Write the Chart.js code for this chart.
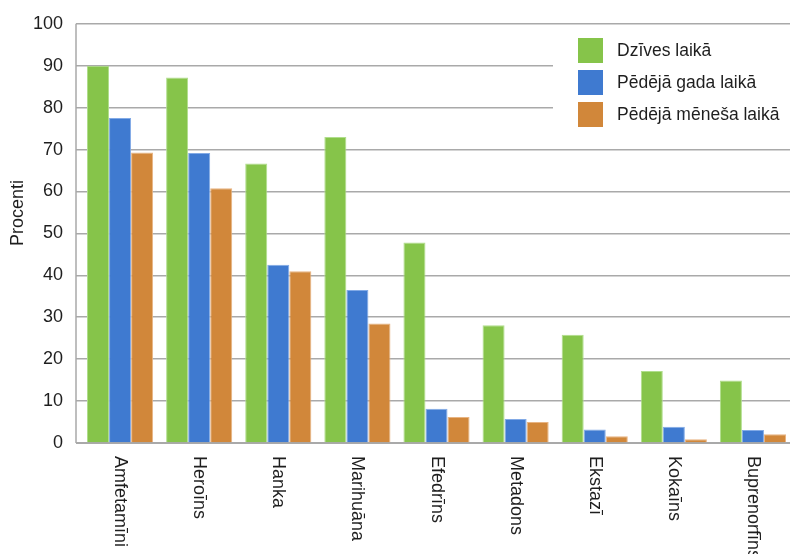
<!DOCTYPE html>
<html>
<head>
<meta charset="utf-8">
<script src="https://cdn.jsdelivr.net/npm/chart.js@4/dist/chart.umd.min.js"></script>
<style>
  html, body { margin: 0; padding: 0; background: #fff; }
  #wrap { width: 790px; height: 554px; overflow: hidden; }
</style>
</head>
<body>
<div id="wrap"><canvas id="myChart" width="796" height="554"></canvas></div>
<script>
let categories = ['Amfetamīni', 'Heroīns', 'Hanka', 'Marihuāna', 'Efedrīns', 'Metadons', 'Ekstazī', 'Kokaīns', 'Buprenorfīns']
let lifetime = [90.0, 87.2, 66.7, 73.0, 47.8, 28.1, 25.8, 17.2, 14.9]
let lastYear = [77.5, 69.2, 42.5, 36.5, 8.2, 5.7, 3.2, 3.9, 3.1]
let lastMonth = [69.3, 60.8, 41.0, 28.5, 6.2, 5.0, 1.6, 0.9, 2.1]
let seriesNames = ['Dzīves laikā', 'Pēdējā gada laikā', 'Pēdējā mēneša laikā']
let yTicks = [0, 10, 20, 30, 40, 50, 60, 70, 80, 90, 100]
let yTitle = 'Procenti'

const FONT = "'Liberation Sans', Arial, sans-serif"
const TEXT = '#1e1e1e'
const GRID = '#a9a9a9'
const AXIS_GAP = 4.5   // axis line sits a little left of the first category

// axis lines, y title and the downward category names
const frame = {
    id: 'frame',
    beforeDatasetsDraw(chart) {
        const ctx = chart.ctx
        const a = chart.chartArea
        const ax = a.left - AXIS_GAP
        ctx.save()
        ctx.strokeStyle = GRID
        ctx.lineWidth = 1.5
        ctx.beginPath()
        ctx.moveTo(ax, a.top)
        ctx.lineTo(ax, a.bottom)
        ctx.stroke()
        ctx.lineWidth = 2
        ctx.beginPath()
        ctx.moveTo(ax, a.bottom)
        ctx.lineTo(a.right, a.bottom)
        ctx.stroke()
        ctx.restore()
    },
    afterDraw(chart) {
        const ctx = chart.ctx
        const xs = chart.scales.x
        ctx.save()
        ctx.fillStyle = TEXT
        ctx.font = '18px ' + FONT
        ctx.textAlign = 'left'
        ctx.textBaseline = 'middle'
        chart.data.labels.forEach((lab, i) => {
            ctx.save()
            ctx.translate(xs.getPixelForTick(i), chart.chartArea.bottom + 13)
            ctx.rotate(Math.PI / 2)
            ctx.fillText(lab, 0, 0)
            ctx.restore()
        })
        ctx.save()
        ctx.translate(18, 213)
        ctx.rotate(-Math.PI / 2)
        ctx.textAlign = 'center'
        ctx.fillText(yTitle, 0, 0)
        ctx.restore()
        ctx.restore()
    }
}

// legend box in the upper right corner, on a white background
const boxLegend = {
    id: 'boxLegend',
    afterDatasetsDraw(chart) {
        const ctx = chart.ctx
        const x0 = 578, y0 = 38, step = 32, sq = 25
        ctx.save()
        ctx.fillStyle = '#fff'
        ctx.fillRect(553, 25, 243, 112)
        ctx.font = '17.5px ' + FONT
        ctx.textBaseline = 'middle'
        ctx.textAlign = 'left'
        chart.data.datasets.forEach((ds, i) => {
            const y = y0 + i * step
            ctx.fillStyle = ds.backgroundColor
            ctx.fillRect(x0, y, sq, sq)
            ctx.fillStyle = TEXT
            ctx.fillText(ds.label, x0 + 39, y + sq / 2 + 1)
        })
        ctx.restore()
    }
}

let dataset = {
    labels: categories,
    datasets: [{
        label: seriesNames[0],
        backgroundColor: 'rgb(134, 196, 74)',
        borderColor: 'rgb(176, 222, 140)',
        borderWidth: 1,
        data: lifetime,
    }, {
        label: seriesNames[1],
        backgroundColor: 'rgb(63, 122, 208)',
        borderColor: 'rgb(130, 170, 230)',
        borderWidth: 1,
        data: lastYear,
    }, {
        label: seriesNames[2],
        backgroundColor: 'rgb(209, 135, 58)',
        borderColor: 'rgb(232, 180, 130)',
        borderWidth: 1,
        data: lastMonth,
    }]
}

let config = {
    type: 'bar',
    data: dataset,
    options: {
        responsive: false,
        animation: false,
        devicePixelRatio: 1,
        layout: { padding: { top: 20, right: 3.5, left: 0, bottom: 0 } },
        datasets: { bar: { categoryPercentage: 0.836, barPercentage: 1 } },
        plugins: {
            legend: { display: false },
            tooltip: { enabled: false }
        },
        scales: {
            x: {
                grid: { display: false, drawTicks: false },
                border: { display: false },
                ticks: { display: false },
                afterFit(scale) { scale.height = 111 }
            },
            y: {
                min: 0,
                max: 100,
                afterBuildTicks(scale) { scale.ticks = yTicks.map(v => ({ value: v })) },
                grid: {
                    color: GRID,
                    lineWidth: 1.5,
                    drawTicks: true,
                    tickLength: AXIS_GAP,
                    tickColor: GRID,
                    tickWidth: 1.5
                },
                border: { display: false },
                ticks: {
                    padding: 13,
                    color: TEXT,
                    font: { family: FONT, size: 18 }
                },
                afterFit(scale) { scale.width = 80.5 }
            }
        }
    },
    plugins: [boxLegend, frame]
}

let myChart = new Chart(
    document.getElementById('myChart'),
    config
)
</script>
</body>
</html>
